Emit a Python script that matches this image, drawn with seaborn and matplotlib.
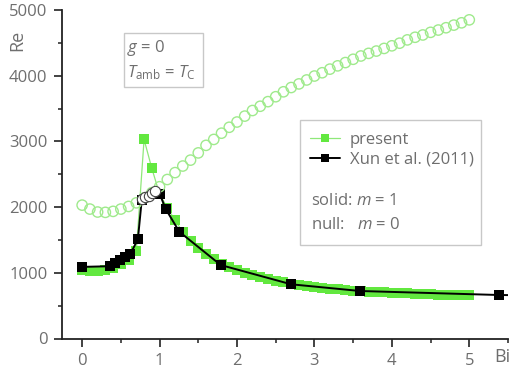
import numpy as np
import pandas as pd
import matplotlib
matplotlib.use("Agg")
import matplotlib.pyplot as plt
from matplotlib.lines import Line2D
from matplotlib.patches import Rectangle
from matplotlib.ticker import MultipleLocator
import seaborn as sns

# ---------------- data ----------------
bi_present = [round(0.1 * i, 1) for i in range(51)]
re_present_m1 = [1040, 1035, 1035, 1045, 1080, 1130, 1200, 1330, 3030, 2590,
                 2200, 1990, 1800, 1620, 1490, 1380, 1290, 1210, 1140, 1090,
                 1040, 1000, 965, 935, 905, 880, 855, 830, 815, 800,
                 785, 772, 760, 750, 740, 730, 722, 715, 708, 702,
                 696, 690, 685, 680, 676, 672, 668, 665, 662, 659, 656]
re_present_m0 = [2030, 1970, 1925, 1920, 1935, 1970, 2010, 2065, 2140, 2220,
                 2310, 2420, 2525, 2625, 2715, 2825, 2940, 3030, 3125, 3215,
                 3295, 3385, 3470, 3535, 3605, 3680, 3755, 3820, 3875, 3935,
                 3995, 4045, 4100, 4150, 4200, 4250, 4300, 4340, 4375, 4415,
                 4455, 4495, 4545, 4585, 4620, 4660, 4695, 4730, 4770, 4805, 4850]

bi_xun_m1 = [0.0, 0.355, 0.43, 0.49, 0.56, 0.62, 0.72, 0.77, 1.0, 1.08,
             1.255, 1.79, 2.70, 3.59, 5.385, 6.0]
re_xun_m1 = [1090, 1100, 1150, 1190, 1235, 1280, 1510, 2110, 2205, 1970,
             1625, 1118, 825, 723, 662, 655]

bi_xun_m0 = [0.77, 0.81, 0.86, 0.90, 0.94]
re_xun_m0 = [2120, 2150, 2175, 2210, 2245]

xticks = [0, 1, 2, 3, 4, 5]
yticks = [0, 1000, 2000, 3000, 4000, 5000]

# ---------------- style ----------------
sns.set_theme(style="ticks")
FONT = ["Open Sans", "DejaVu Sans"]
plt.rcParams["font.family"] = FONT
plt.rcParams["mathtext.fontset"] = "custom"
plt.rcParams["mathtext.rm"] = "Open Sans"
plt.rcParams["mathtext.it"] = "Open Sans:italic"
TXT = "#6e6e6e"
FS = 12
GREEN_SQ = "#62E83F"
GREEN_LN = "#8FE879"
GREEN_CIR = "#9FEA8C"

W, H = 513, 378
fig = plt.figure(figsize=(W / 100, H / 100), dpi=100)
ax = fig.add_axes([62 / W, 1 - 338.5 / H, (508 - 62) / W, (338.5 - 10) / H])

df_p1 = pd.DataFrame({"Bi": bi_present, "Re": re_present_m1})
df_p0 = pd.DataFrame({"Bi": bi_present, "Re": re_present_m0})
df_x1 = pd.DataFrame({"Bi": bi_xun_m1, "Re": re_xun_m1})
df_x0 = pd.DataFrame({"Bi": bi_xun_m0, "Re": re_xun_m0})

sns.lineplot(data=df_p1, x="Bi", y="Re", ax=ax, color=GREEN_LN, lw=0.9,
             marker="s", markersize=6.5, markerfacecolor=GREEN_SQ,
             markeredgecolor=GREEN_SQ, markeredgewidth=0, zorder=2)
sns.lineplot(data=df_x1, x="Bi", y="Re", ax=ax, color="black", lw=1.4,
             marker="s", markersize=7, markerfacecolor="black",
             markeredgecolor="black", markeredgewidth=0, zorder=3)
sns.scatterplot(data=df_p0, x="Bi", y="Re", ax=ax, marker="o", s=55,
                facecolor="none", edgecolor=GREEN_CIR, linewidth=1.0, zorder=4)
sns.scatterplot(data=df_x0, x="Bi", y="Re", ax=ax, marker="o", s=55,
                facecolor="white", edgecolor="#444444", linewidth=0.8, zorder=5)

ax.set_xlim(-0.26, 5.5)
ax.set_ylim(0, 5000)
ax.set_xticks(xticks)
ax.set_yticks(yticks)
ax.xaxis.set_minor_locator(MultipleLocator(0.5))
ax.yaxis.set_minor_locator(MultipleLocator(500))
ax.set_xlabel("")
ax.set_ylabel("")
sns.despine(ax=ax)
for s in ["left", "bottom"]:
    ax.spines[s].set_color("#222222")
    ax.spines[s].set_linewidth(1.3)
ax.tick_params(which="major", direction="out", length=5.5, width=1.2,
               color="#222222", labelcolor=TXT, labelsize=FS, pad=5)
ax.tick_params(which="minor", direction="out", length=3.2, width=1.1,
               color="#222222")

# axis labels
fig.text(17 / W, 1 - 40 / H, "Re", rotation=90, ha="center", va="center",
         color=TXT, fontsize=13)
fig.text(502 / W, 1 - 357 / H, "Bi", ha="center", va="center",
         color=TXT, fontsize=13)

# annotation box (top-left)
fig.patches.append(Rectangle((124 / W, 1 - 87 / H), 79 / W, 54 / H,
                             transform=fig.transFigure, fill=False,
                             edgecolor="#c8c8c8", linewidth=1.0))
fig.text(127 / W, 1 - 48 / H, r"$g$ = 0", ha="left", va="center",
         color=TXT, fontsize=FS)
fig.text(127 / W, 1 - 73 / H, r"$T_{\mathrm{amb}}$ = $T_{\mathrm{C}}$",
         ha="left", va="center", color=TXT, fontsize=FS)

# legend box
fig.patches.append(Rectangle((300 / W, 1 - 245 / H), 181 / W, 125 / H,
                             transform=fig.transFigure, fill=False,
                             edgecolor="#c8c8c8", linewidth=1.0))
handles = [
    Line2D([], [], color=GREEN_LN, lw=0.9, marker="s", markersize=6,
           markerfacecolor=GREEN_SQ, markeredgewidth=0),
    Line2D([], [], color="black", lw=1.4, marker="s", markersize=6,
           markerfacecolor="black", markeredgewidth=0),
]
leg = ax.legend(handles, ["present", "Xun et al. (2011)"], loc="upper left",
                bbox_to_anchor=(310 / W, 1 - 132 / H),
                bbox_transform=fig.transFigure, frameon=False, fontsize=FS,
                handlelength=1.8, handletextpad=0.6, labelspacing=0.2,
                borderaxespad=0, borderpad=0)
for t in leg.get_texts():
    t.set_color(TXT)
fig.text(311 / W, 1 - 201 / H, r"solid: $m$ = 1", ha="left", va="center",
         color=TXT, fontsize=FS)
fig.text(311 / W, 1 - 225 / H, r"null:   $m$ = 0", ha="left", va="center",
         color=TXT, fontsize=FS)

fig.savefig("out.png", dpi=100)
